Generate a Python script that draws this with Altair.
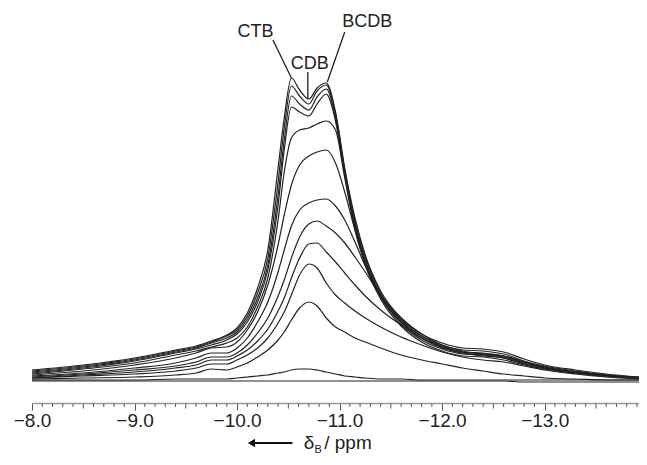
import altair as alt
import pandas as pd

# chemical shift sample positions (ppm)
ppm = [-8.0, -8.5, -9.0, -9.4, -9.6, -9.75, -9.9, -10.0, -10.1, -10.2, -10.3, -10.4,
       -10.46, -10.53, -10.61, -10.7, -10.78, -10.87, -10.96, -11.05, -11.15, -11.25,
       -11.4, -11.6, -11.8, -12.0, -12.2, -12.4, -12.6, -12.8, -13.0, -13.3, -13.6, -13.92]

# intensities (arbitrary units) of the successive spectra
s01 = [1, 1, 1, 1, 1, 1, 1, 1, 1, 1, 1, 1, 1, 1, 1, 1, 1, 1, 1, 1, 1, 1, 1, 1, 1, 1, 1, 1, 1, 0, 0, 0, 0, 0]
s02 = [2, 2, 2, 3, 3, 3, 3, 4, 5, 6, 7, 9, 10, 12, 13, 13, 12, 10, 8, 6, 5, 4, 3, 3, 2, 2, 2, 2, 2, 2, 2, 2, 2, 2]
s03 = [3, 4, 5, 7, 9, 13, 12, 15, 19, 25, 32, 42, 50, 62, 74, 80, 76, 64, 55, 50, 44, 40, 34, 27, 22, 18, 14, 11, 8, 6, 4, 3, 2, 2]
s04 = [4, 6, 8, 11, 14, 18, 18, 22, 27, 34, 44, 59, 70, 87, 107, 118, 114, 99, 87, 79, 71, 64, 55, 45, 37, 30, 25, 22, 20, 16, 12, 8, 5, 3]
s05 = [4, 7, 10, 14, 17, 22, 22, 26, 32, 41, 53, 71, 84, 104, 124, 138, 139, 130, 120, 109, 97, 86, 72, 57, 44, 35, 29, 26, 24, 18, 13, 9, 6, 4]
s06 = [5, 8, 12, 16, 20, 25, 25, 29, 37, 49, 64, 86, 102, 124, 145, 158, 161, 156, 149, 139, 125, 110, 87, 64, 48, 37, 31, 28, 26, 20, 15, 10, 6, 4]
s07 = [6, 9, 14, 19, 24, 29, 29, 34, 44, 60, 80, 110, 132, 156, 172, 179, 182, 183, 176, 162, 140, 116, 86, 62, 46, 36, 30, 28, 26, 20, 15, 10, 7, 4]
s08 = [7, 11, 17, 24, 29, 34, 35, 40, 52, 70, 97, 137, 167, 197, 217, 226, 230, 232, 219, 190, 152, 120, 86, 60, 44, 34, 29, 27, 25, 19, 14, 9, 6, 4]
s09 = [8, 13, 19, 27, 31, 35, 39, 44, 55, 75, 104, 162, 210, 244, 252, 254, 258, 261, 252, 204, 152, 117, 83, 56, 40, 31, 26, 25, 22, 17, 13, 9, 6, 4]
s10 = [9, 14, 21, 29, 33, 37, 42, 48, 60, 80, 112, 177, 232, 275, 270, 266, 278, 288, 261, 207, 155, 120, 85, 58, 42, 33, 28, 27, 24, 18, 14, 9, 6, 4]
s11 = [10, 15, 22, 30, 34, 39, 44, 50, 63, 84, 117, 187, 242, 286, 278, 272, 285, 293, 265, 210, 158, 122, 87, 60, 44, 35, 30, 29, 26, 20, 15, 10, 7, 4]
s12 = [11, 16, 23, 31, 35, 40, 46, 52, 66, 89, 124, 200, 254, 296, 286, 278, 291, 297, 268, 212, 161, 125, 89, 62, 46, 37, 32, 31, 28, 21, 16, 11, 7, 5]
s13 = [12, 17, 24, 32, 36, 41, 47, 54, 69, 94, 132, 214, 264, 304, 292, 283, 294, 299, 270, 214, 164, 127, 91, 64, 48, 39, 34, 33, 30, 23, 17, 12, 8, 5]

spectra = [s01, s02, s03, s04, s05, s06, s07, s08, s09, s10, s11, s12, s13]

# peak annotations
ann_text = ["CTB", "CDB", "BCDB"]
ann_ppm = [-10.18, -10.71, -11.27]
ann_int = [350, 318, 360]
lead_ppm = [-10.35, -10.69, -11.05]
lead_int = [342, 310, 350]
lead_ppm2 = [-10.53, -10.69, -10.88]
lead_int2 = [304, 283, 300]

# axis tick positions
major_ticks = [-8.0, -9.0, -10.0, -11.0, -12.0, -13.0]
half_ticks = [-8.5, -9.5, -10.5, -11.5, -12.5, -13.5]
minor_ticks = [round(-8.0 - 0.1 * i, 1) for i in range(60) if i % 5 != 0]

rows = []
for k, s in enumerate(spectra):
    for p, v in zip(ppm, s):
        rows.append({"ppm": p, "intensity": v, "spectrum": k})
df = pd.DataFrame(rows)

ann = pd.DataFrame({"text": ann_text, "ppm": ann_ppm, "intensity": ann_int,
                    "p1": lead_ppm, "i1": lead_int, "p2": lead_ppm2, "i2": lead_int2})

xscale = alt.Scale(domain=[-8.0, -13.92], nice=False, zero=False)
yscale = alt.Scale(domain=[-21, 372], nice=False, zero=False)

xaxis = alt.Axis(
    values=major_ticks, format=".1f",
    labelFont="Liberation Sans", labelFontSize=19, labelColor="#222222",
    labelPadding=1, labelOverlap=False, labelFlush=False, labelBound=False,
    tickColor="#555555", tickWidth=1, tickSize=7,
    domainColor="#9a9a9a", domainWidth=1.5,
    grid=False, title=None,
)

lines = alt.Chart(df).mark_line(
    interpolate="monotone", stroke="#222222", strokeWidth=1.2, clip=True
).encode(
    x=alt.X("ppm:Q", scale=xscale, axis=xaxis),
    y=alt.Y("intensity:Q", scale=yscale, axis=None),
    detail="spectrum:N",
)

minor = alt.Chart(pd.DataFrame({"t": minor_ticks})).mark_rule(
    stroke="#555555", strokeWidth=1, clip=False
).encode(x=alt.X("t:Q", scale=xscale), y=alt.value(393.5), y2=alt.value(397))

half = alt.Chart(pd.DataFrame({"t": half_ticks})).mark_rule(
    stroke="#555555", strokeWidth=1, clip=False
).encode(x=alt.X("t:Q", scale=xscale), y=alt.value(393.5), y2=alt.value(398.5))

leaders = alt.Chart(ann).mark_rule(stroke="#222222", strokeWidth=1.3).encode(
    x=alt.X("p1:Q", scale=xscale), x2="p2:Q",
    y=alt.Y("i1:Q", scale=yscale), y2="i2:Q",
)

labels = alt.Chart(ann).mark_text(
    font="Liberation Sans", fontSize=18, color="#222222", baseline="middle"
).encode(
    x=alt.X("ppm:Q", scale=xscale),
    y=alt.Y("intensity:Q", scale=yscale),
    text="text:N",
)

# axis title: "<-- δB / ppm"
title_main = pd.DataFrame({"t": ["δ", "/ ppm"], "ppm": [-10.65, -10.85]})
title_sub = pd.DataFrame({"t": ["B"], "ppm": [-10.755]})
t_main = alt.Chart(title_main).mark_text(
    font="Liberation Sans", fontSize=19, color="#222222", align="left", baseline="alphabetic"
).encode(x=alt.X("ppm:Q", scale=xscale), y=alt.value(439), text="t:N")
t_sub = alt.Chart(title_sub).mark_text(
    font="Liberation Sans", fontSize=11, color="#222222", align="left", baseline="alphabetic"
).encode(x=alt.X("ppm:Q", scale=xscale), y=alt.value(443), text="t:N")

arrow_df = pd.DataFrame({"a": [-10.14], "b": [-10.54]})
arrow_line = alt.Chart(arrow_df).mark_rule(stroke="#111111", strokeWidth=2).encode(
    x=alt.X("a:Q", scale=xscale), x2="b:Q", y=alt.value(433))
arrow_head = alt.Chart(arrow_df).mark_point(
    shape="triangle-left", filled=True, color="#111111", size=70, opacity=1
).encode(x=alt.X("a:Q", scale=xscale), y=alt.value(433))

chart = alt.layer(lines, minor, half, leaders, labels, t_main, t_sub, arrow_line, arrow_head).properties(
    width=607, height=393,
    padding={"left": 24, "right": 0, "top": 2, "bottom": 56},
    autosize=alt.AutoSizeParams(type="none"),
    background="white",
).configure_view(stroke=None)

chart.save("out.html", embed_options={"renderer": "svg", "actions": False})
